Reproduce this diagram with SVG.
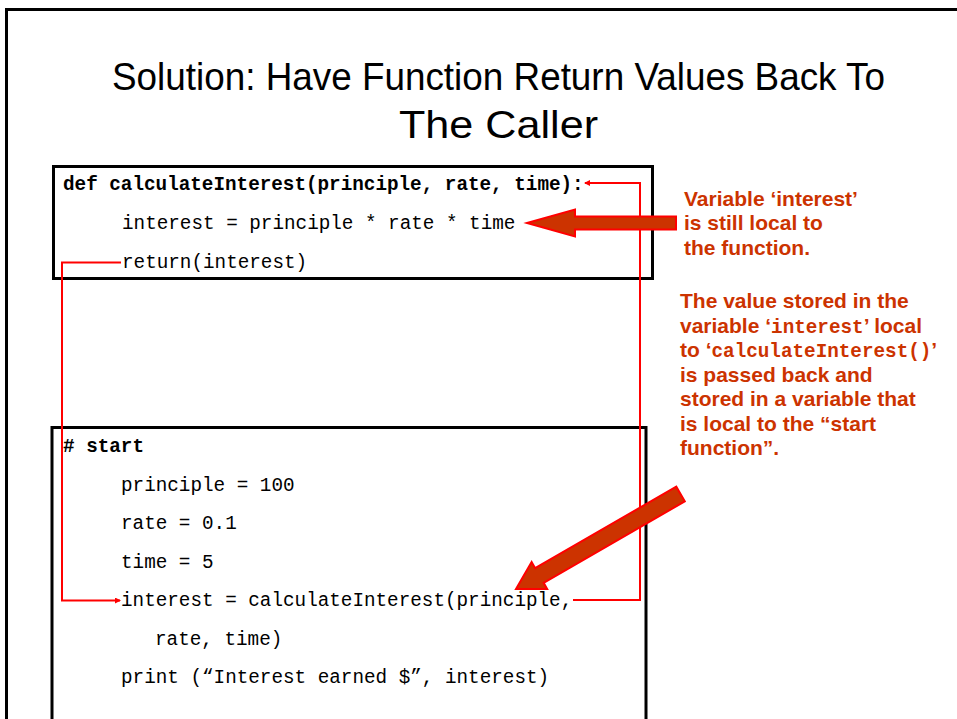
<svg xmlns="http://www.w3.org/2000/svg" width="957" height="719" viewBox="0 0 957 719">
  <style>
    .title { font-family: "Liberation Sans", Arial, sans-serif; font-size: 39px; fill: #000; }
    .code { font-family: "Liberation Mono", "DejaVu Sans Mono", monospace; font-size: 19.3px; fill: #000; }
    .bold { font-weight: bold; }
    .note { font-family: "Liberation Sans", Arial, sans-serif; font-size: 21px; font-weight: bold; fill: #CC3300; }
    .mono { font-family: "Liberation Mono", "DejaVu Sans Mono", monospace; font-size: 19.3px; font-weight: bold; }
    .box { fill: #fff; stroke: #000; stroke-width: 3; }
    .frame { fill: none; stroke: #000; stroke-width: 3; }
    .link { fill: none; stroke: #FF0000; stroke-width: 2; }
    .bigarrow { fill: #CC3300; stroke: #FF0000; stroke-width: 2; stroke-linejoin: miter; }
  </style>
  <defs>
    <marker id="tip" markerWidth="6" markerHeight="6" refX="5" refY="3" orient="auto" markerUnits="userSpaceOnUse">
      <path d="M0,0 L6,3 L0,6 Z" fill="#FF0000"/>
    </marker>
  </defs>

  <rect width="957" height="719" fill="#fff"/>
  <!-- slide frame -->
  <path class="frame" d="M6.5,730 V9.5 H960"/>

  <!-- heading -->
  <text class="title" x="112" y="90" textLength="773" lengthAdjust="spacingAndGlyphs">Solution: Have Function Return Values Back To</text>
  <text class="title" x="399" y="138" textLength="199" lengthAdjust="spacingAndGlyphs">The Caller</text>

  <!-- function definition -->
  <g id="function-box">
    <rect class="box" x="53.5" y="166.5" width="599" height="112"/>
    <text class="code bold" x="63" y="190">def calculateInterest(principle, rate, time):</text>
    <text class="code" x="122" y="229">interest = principle * rate * time</text>
    <text class="code" x="122" y="268">return(interest)</text>
  </g>

  <!-- caller block -->
  <g id="start-box">
    <rect class="box" x="52" y="427.5" width="594" height="320"/>
    <text class="code bold" x="63" y="452"># start</text>
    <text class="code" x="121" y="491">principle = 100</text>
    <text class="code" x="121" y="529">rate = 0.1</text>
    <text class="code" x="121" y="568">time = 5</text>
    <text class="code" x="121" y="606">interest = calculateInterest(principle,</text>
    <text class="code" x="155" y="645">rate, time)</text>
    <text class="code" x="121" y="683">print (“Interest earned $”, interest)</text>
  </g>

  <!-- call and return paths -->
  <g id="connectors">
    <path class="link" d="M121,262.5 H62 V600.5 H120" marker-end="url(#tip)"/>
    <path class="link" d="M573,600 H640 V183 H585" marker-end="url(#tip)"/>
    <polygon class="bigarrow" points="527,223 575,209.5 575,216.5 676,216.5 676,229.5 575,229.5 575,236.5"/>
    <polygon class="bigarrow" transform="translate(516,589) rotate(-30)" points="0,0 27,-15.5 27,-8.5 190,-8.5 190,8.5 27,8.5 27,15.5"/>
  </g>

  <!-- annotations -->
  <g id="note-local">
    <text class="note" x="684" y="206">Variable ‘interest’</text>
    <text class="note" x="684" y="230">is still local to</text>
    <text class="note" x="684" y="255">the function.</text>
  </g>
  <g id="note-return">
    <text class="note" x="680" y="308">The value stored in the</text>
    <text class="note" x="680" y="333">variable ‘<tspan class="mono">interest</tspan>’ local</text>
    <text class="note" x="680" y="357">to ‘<tspan class="mono">calculateInterest()</tspan>’</text>
    <text class="note" x="680" y="382">is passed back and</text>
    <text class="note" x="680" y="406">stored in a variable that</text>
    <text class="note" x="680" y="431">is local to the “start</text>
    <text class="note" x="680" y="455">function”.</text>
  </g>
</svg>
